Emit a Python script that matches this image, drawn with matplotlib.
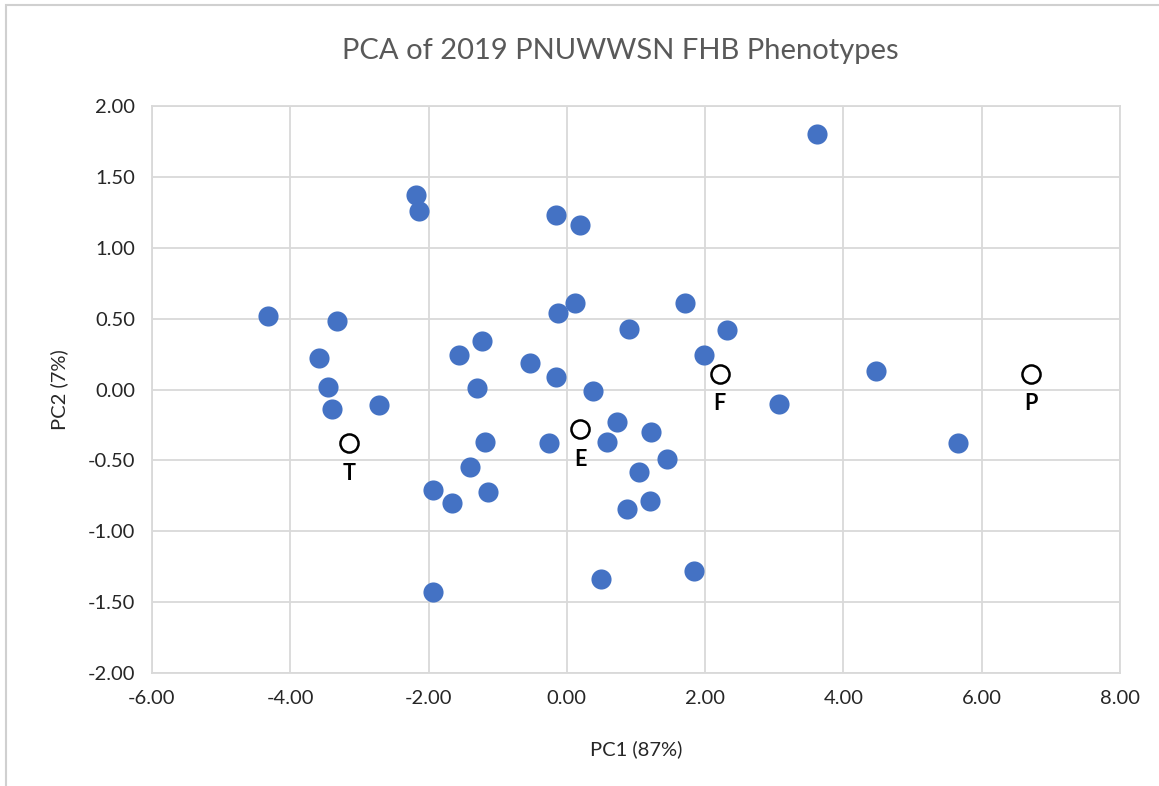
import matplotlib.pyplot as plt
from matplotlib.patches import Rectangle

# PCA scores
pc1 = [3.62, -2.18, -2.14, -0.16, 0.19, -4.32, -3.33, 0.12, -0.13, 1.71,
       0.90, 2.31, -1.23, -1.56, -3.59, 1.98, -0.54, -3.46, -1.30, -0.16,
       0.38, 4.47, 3.07, -3.40, -2.72, 5.66, -1.19, -0.26, 0.58, 0.72,
       1.21, 1.45, 1.04, -1.40, -1.94, -1.14, -1.66, 0.87, 1.20, 0.49,
       1.84, -1.94]
pc2 = [1.80, 1.37, 1.26, 1.23, 1.16, 0.52, 0.48, 0.61, 0.54, 0.61,
       0.43, 0.42, 0.34, 0.24, 0.22, 0.24, 0.19, 0.02, 0.01, 0.09,
       -0.01, 0.13, -0.10, -0.14, -0.11, -0.38, -0.37, -0.38, -0.37, -0.23,
       -0.30, -0.49, -0.58, -0.55, -0.71, -0.72, -0.80, -0.84, -0.79, -1.34,
       -1.28, -1.43]

# check lines
check_names = ['T', 'E', 'F', 'P']
check_pc1 = [-3.15, 0.19, 2.21, 6.71]
check_pc2 = [-0.38, -0.28, 0.11, 0.11]

plt.rcParams['font.family'] = ['Lato', 'DejaVu Sans']

fig = plt.figure(figsize=(11.59, 7.86), dpi=100)
ax = fig.add_axes([0.1311, 0.1438, 0.8353, 0.7213])

grid_col = '#d9d9d9'
ax.scatter(pc1, pc2, s=210, color='#4472C4', zorder=3, linewidths=0)
ax.scatter(check_pc1, check_pc2, s=170, facecolors='white', edgecolors='black',
           linewidths=1.8, zorder=4)
for name, x, y in zip(check_names, check_pc1, check_pc2):
    ax.annotate(name, (x, y), xytext=(0, -14), textcoords='offset points',
                ha='center', va='top', fontsize=15.5, fontweight='bold', zorder=5)

ax.set_xlim(-6, 8)
ax.set_ylim(-2, 2)
ax.set_xticks(range(-6, 9, 2))
ax.set_yticks([-2, -1.5, -1, -0.5, 0, 0.5, 1, 1.5, 2])
ax.xaxis.set_major_formatter(lambda v, p: f'{v:.2f}')
ax.yaxis.set_major_formatter(lambda v, p: f'{v:.2f}')
ax.grid(True, color=grid_col, linewidth=1.3, zorder=0)
ax.set_axisbelow(True)
for sp in ax.spines.values():
    sp.set_color(grid_col)
    sp.set_linewidth(1.3)
ax.tick_params(length=0, labelsize=14.5, colors='#262626', pad=12)

ax.set_xlabel('PC1 (87%)', fontsize=14.5, color='#262626', labelpad=24)
ax.set_ylabel('PC2 (7%)', fontsize=14.5, color='#262626', labelpad=14)
fig.text(0.535, 0.935, 'PCA of 2019 PNUWWSN FHB Phenotypes', ha='center',
         va='center', fontsize=21, color='#595959')

# chart area border
fig.patches.append(Rectangle((0.005, -0.01), 1.2, 1.0036, transform=fig.transFigure,
                             fill=False, edgecolor='#d0d0d0', linewidth=1.5))

fig.savefig('out.png', dpi=100)
